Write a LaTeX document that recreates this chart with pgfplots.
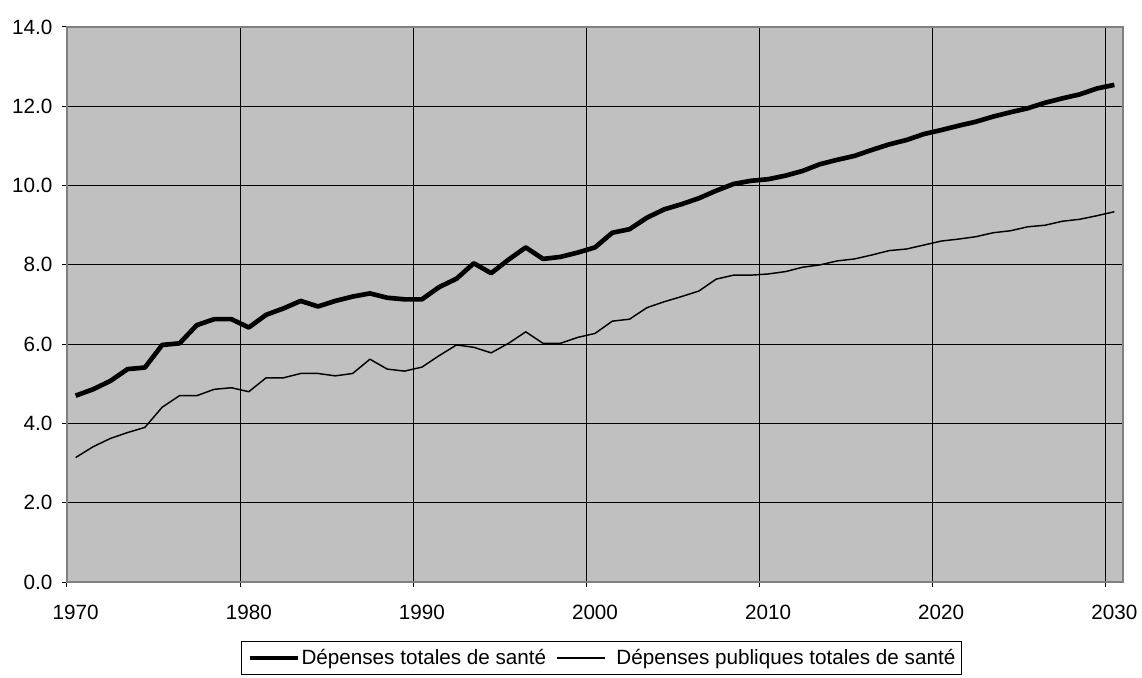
\documentclass[border=0pt]{standalone}
\usepackage{pgfplots}
\pgfplotsset{compat=1.18}
\usepackage{pgfplotstable}
\usepackage{fontspec}
\setmainfont{Liberation Sans}
\definecolor{plotbg}{HTML}{C0C0C0}
\definecolor{frame}{HTML}{808080}

\pgfplotstableread{
year total
1970 4.70
1971 4.86
1972 5.07
1973 5.37
1974 5.41
1975 5.98
1976 6.02
1977 6.48
1978 6.63
1979 6.63
1980 6.42
1981 6.74
1982 6.90
1983 7.09
1984 6.95
1985 7.09
1986 7.20
1987 7.28
1988 7.17
1989 7.13
1990 7.13
1991 7.44
1992 7.65
1993 8.04
1994 7.79
1995 8.13
1996 8.44
1997 8.15
1998 8.20
1999 8.31
2000 8.44
2001 8.81
2002 8.90
2003 9.19
2004 9.40
2005 9.53
2006 9.68
2007 9.87
2008 10.04
2009 10.12
2010 10.16
2011 10.25
2012 10.37
2013 10.54
2014 10.65
2015 10.75
2016 10.90
2017 11.04
2018 11.15
2019 11.30
2020 11.40
2021 11.51
2022 11.61
2023 11.74
2024 11.85
2025 11.95
2026 12.09
2027 12.20
2028 12.30
2029 12.45
2030 12.54
}\totaltab

\pgfplotstableread{
year public
1970 3.14
1971 3.41
1972 3.62
1973 3.77
1974 3.90
1975 4.41
1976 4.70
1977 4.70
1978 4.86
1979 4.90
1980 4.80
1981 5.15
1982 5.15
1983 5.26
1984 5.26
1985 5.20
1986 5.26
1987 5.62
1988 5.37
1989 5.32
1990 5.42
1991 5.71
1992 5.98
1993 5.92
1994 5.78
1995 6.02
1996 6.31
1997 6.02
1998 6.02
1999 6.17
2000 6.27
2001 6.58
2002 6.63
2003 6.92
2004 7.07
2005 7.20
2006 7.34
2007 7.64
2008 7.74
2009 7.74
2010 7.77
2011 7.83
2012 7.94
2013 8.00
2014 8.10
2015 8.15
2016 8.25
2017 8.36
2018 8.40
2019 8.50
2020 8.60
2021 8.65
2022 8.71
2023 8.81
2024 8.86
2025 8.96
2026 9.00
2027 9.10
2028 9.15
2029 9.24
2030 9.34
}\publictab

\begin{document}
\begin{tikzpicture}
\begin{axis}[
  scale only axis,
  width=792pt, height=416.25pt,
  xmin=1970, xmax=2031,
  ymin=0, ymax=14,
  axis background/.style={fill=plotbg},
  axis line style={draw=frame, line width=1.5pt},
  xtick={1970,1980,...,2030},
  ytick={0,2,...,14},
  xticklabel style={xshift=6.49pt, yshift=-10pt},
  yticklabel style={xshift=-3.75pt},
  x tick label style={/pgf/number format/1000 sep={}},
  /pgf/number format/assume math mode=true,
  yticklabel={\pgfmathprintnumber[fixed,fixed zerofill,precision=1]{\tick}},
  tick align=outside,
  tick pos=left,
  major tick length=3.75pt,
  tick style={black, line width=0.75pt},
  grid=major,
  major grid style={black, line width=0.75pt},
  font=\fontsize{15.5}{18}\selectfont,
  every tick label/.append style={font=\fontsize{15.5}{18}\selectfont},
  legend columns=2,
  legend style={at={(0.1648,-0.1063)}, anchor=north west, draw=black, line width=0.75pt,
    fill=white, font=\fontsize{15.5}{18}\selectfont, inner xsep=4.5pt, inner ysep=4pt,
    nodes={inner xsep=0pt},
    /tikz/column 1/.style={column sep=1pt},
    /tikz/column 2/.style={column sep=7.5pt},
    /tikz/column 3/.style={column sep=8pt}},
  legend image code/.code={\draw[#1] (0pt,0pt) -- (36pt,0pt);},
  clip=false,
]
\addplot[black, line width=3.5pt, line join=round] table[x expr=\thisrow{year}+0.5, y=total] {\totaltab};
\addlegendentry{Dépenses totales de santé}
\addplot[black, line width=1.1pt, line join=round] table[x expr=\thisrow{year}+0.5, y=public] {\publictab};
\addlegendentry{Dépenses publiques totales de santé\hspace{7pt}}
\end{axis}
\pgfresetboundingbox
\path ([shift={(-50.25pt,-72pt)}]current axis.south west) rectangle ([shift={(14.25pt,20.25pt)}]current axis.north east);
\end{tikzpicture}
\end{document}
